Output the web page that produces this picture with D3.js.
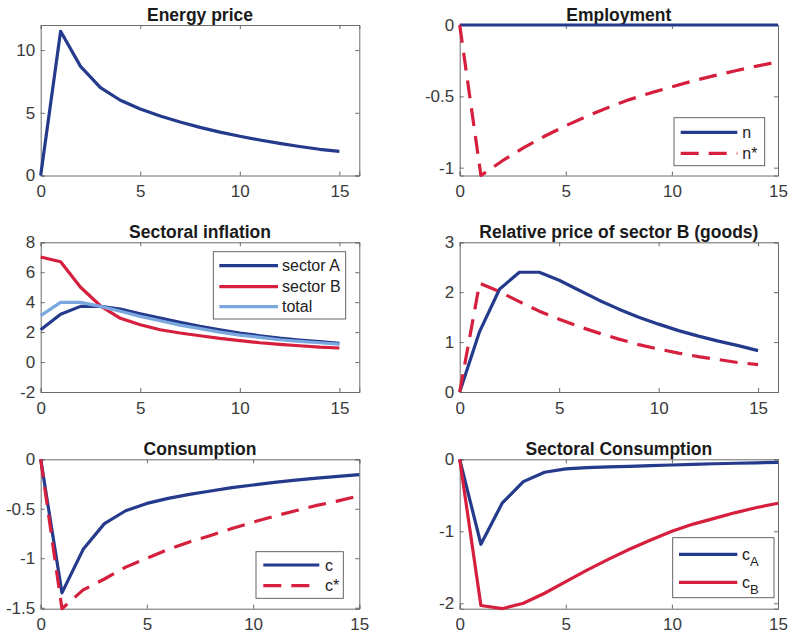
<!DOCTYPE html>
<html><head><meta charset="utf-8">
<script src="https://cdn.jsdelivr.net/npm/d3@7"></script>
<style>
body{margin:0;background:#fff;}
svg{display:block;font-family:"Liberation Sans",Arial,Helvetica,sans-serif;}
</style></head>
<body><svg id="c" width="788" height="638"></svg>
<script>
// ---------- data ----------
const periods = [0,1,2,3,4,5,6,7,8,9,10,11,12,13,14,15];

const energyPrice = [0,11.5,8.7,7.0,6.0,5.3,4.75,4.27,3.84,3.46,3.13,2.83,2.56,2.31,2.09,1.92];

const employmentN     = [0,0,0,0,0,0,0,0,0,0,0,0,0,0,0,0];
const employmentNStar = [0,-1.055,-0.953,-0.862,-0.780,-0.706,-0.639,-0.578,-0.523,-0.476,-0.433,-0.392,-0.355,-0.321,-0.288,-0.258];

const inflSectorA = [2.16,3.2,3.72,3.72,3.54,3.23,2.94,2.65,2.38,2.16,1.94,1.76,1.6,1.47,1.36,1.25];
const inflSectorB = [7.02,6.7,5.0,3.76,2.92,2.49,2.16,1.94,1.76,1.58,1.43,1.29,1.18,1.09,1.0,0.94];
const inflTotal   = [3.1,3.99,3.99,3.72,3.39,3.05,2.76,2.47,2.23,2.0,1.8,1.65,1.49,1.38,1.29,1.2];

const relPrice     = [0,1.21,2.06,2.4,2.4,2.24,2.04,1.84,1.66,1.5,1.36,1.23,1.12,1.02,0.93,0.83];
const relPriceStar = [0,2.18,2.01,1.81,1.62,1.46,1.31,1.18,1.06,0.95,0.86,0.78,0.71,0.65,0.59,0.55];

const consC     = [0,-1.35,-0.91,-0.65,-0.52,-0.446,-0.395,-0.355,-0.32,-0.287,-0.26,-0.233,-0.21,-0.19,-0.172,-0.155];
const consCStar = [0,-1.51,-1.32,-1.21,-1.09,-1.0,-0.91,-0.835,-0.77,-0.70,-0.635,-0.575,-0.52,-0.466,-0.42,-0.37];

const consA = [0,-1.18,-0.61,-0.31,-0.18,-0.134,-0.116,-0.106,-0.097,-0.088,-0.079,-0.07,-0.062,-0.055,-0.049,-0.042];
const consB = [0,-2.03,-2.075,-2.0,-1.86,-1.70,-1.54,-1.39,-1.25,-1.12,-1.0,-0.90,-0.82,-0.74,-0.67,-0.61];

const titles = ["Energy price","Employment","Sectoral inflation","Relative price of sector B (goods)","Consumption","Sectoral Consumption"];
const xTicks = [0,5,10,15];
const yTicksEnergy = [0,5,10];
const yTicksEmployment = [-1,-0.5,0];
const yTicksInflation = [-2,0,2,4,6,8];
const yTicksRelPrice = [0,1,2,3];
const yTicksCons = [-1.5,-1,-0.5,0];
const yTicksSectCons = [-2,-1,0];

// ---------- styles ----------
const DARK = "#243a8c", RED = "#d51f3d", LIGHT = "#7aa8de";
const DASH = "18,10";
const svg = d3.select("#c");

function panel(cfg){
  const x = d3.scaleLinear().domain(cfg.xDomain).range([cfg.left, cfg.right]);
  const y = d3.scaleLinear().domain(cfg.yDomain).range([cfg.bottom, cfg.top]);
  const g = svg.append("g");
  g.append("rect").attr("x",cfg.left).attr("y",cfg.top)
    .attr("width",cfg.right-cfg.left).attr("height",cfg.bottom-cfg.top)
    .attr("fill","#fff");
  const tickCol = "#6b6b6b";
  const axB = d3.axisBottom(x).tickValues(xTicks).tickSize(-4).tickPadding(9.7).tickFormat(d3.format("d"));
  const axT = d3.axisTop(x).tickValues(xTicks).tickSize(-4).tickFormat("");
  const axL = d3.axisLeft(y).tickValues(cfg.yTicks).tickSize(-4).tickPadding(5.5).tickFormat(d=>String(d));
  const axR = d3.axisRight(y).tickValues(cfg.yTicks).tickSize(-4).tickFormat("");
  [[axB,`translate(0,${cfg.bottom})`],[axT,`translate(0,${cfg.top})`],
   [axL,`translate(${cfg.left},0)`],[axR,`translate(${cfg.right},0)`]].forEach(([ax,tr])=>{
    const a = g.append("g").attr("transform",tr).call(ax);
    a.select(".domain").attr("stroke",tickCol).attr("stroke-width",1);
    a.selectAll(".tick line").attr("stroke",tickCol);
    a.selectAll("text").attr("font-size",17).attr("fill","#3a3a3a")
      .attr("font-family",'"Liberation Sans",Arial,sans-serif');
  });
  g.append("text").attr("x",(cfg.left+cfg.right)/2).attr("y",cfg.top-4.5)
    .attr("text-anchor","middle").attr("font-weight","bold").attr("font-size",17.5)
    .attr("fill","#1a1a1a").text(cfg.title);
  const line = d3.line().x((d,i)=>x(periods[i])).y(d=>y(d));
  cfg.series.forEach(s=>{
    g.append("path").datum(s.values).attr("d",line)
      .attr("fill","none").attr("stroke",s.color).attr("stroke-width",3.2)
      .attr("stroke-linejoin","round")
      .attr("stroke-dasharray",s.dash?DASH:null);
  });
  if(cfg.legend){
    const L = cfg.legend;
    g.append("rect").attr("x",L.x0).attr("y",L.y0).attr("width",L.x1-L.x0).attr("height",L.y1-L.y0)
      .attr("fill","#fff").attr("stroke","#555").attr("stroke-width",0.9);
    cfg.series.forEach((s,i)=>{
      const ry = L.rows[i];
      g.append("line").attr("x1",L.lx0).attr("x2",L.lx1).attr("y1",ry).attr("y2",ry)
        .attr("stroke",s.color).attr("stroke-width",3.2)
        .attr("stroke-dasharray",s.dash?DASH:null);
      const t = g.append("text").attr("x",L.tx).attr("y",ry+5.5).attr("font-size",16).attr("fill","#222");
      t.append("tspan").text(s.label);
      if(s.sub) t.append("tspan").attr("dy",6).attr("font-size",13).text(s.sub);
    });
  }
}

const LX0=40.7, LX1=359.3, RX0=459.7, RX1=778;
const R1=[25,175.5], R2=[242.3,392], R3=[459.3,608.7];

panel({title:titles[0],left:LX0,right:LX1,top:R1[0],bottom:R1[1],xDomain:[0,16],yDomain:[0,12],yTicks:yTicksEnergy,
  series:[{values:energyPrice,color:DARK}]});

panel({title:titles[1],left:RX0,right:RX1,top:R1[0],bottom:R1[1],xDomain:[0,15],yDomain:[-1.055,0],yTicks:yTicksEmployment,
  series:[{values:employmentN,color:DARK,label:"n"},{values:employmentNStar,color:RED,dash:true,label:"n*"}],
  legend:{x0:674,x1:764.7,y0:117.7,y1:165.7,lx0:680.7,lx1:737.3,tx:742.3,rows:[132.3,153.3]}});

panel({title:titles[2],left:LX0,right:LX1,top:R2[0],bottom:R2[1],xDomain:[0,16],yDomain:[-2,8],yTicks:yTicksInflation,
  series:[{values:inflSectorA,color:DARK,label:"sector A"},{values:inflSectorB,color:RED,label:"sector B"},{values:inflTotal,color:LIGHT,label:"total"}],
  legend:{x0:213.3,x1:345.7,y0:251.7,y1:319,lx0:219.3,lx1:278,tx:282,rows:[265.7,286.7,306.7]}});

panel({title:titles[3],left:RX0,right:RX1,top:R2[0],bottom:R2[1],xDomain:[0,16],yDomain:[0,3],yTicks:yTicksRelPrice,
  series:[{values:relPrice,color:DARK},{values:relPriceStar,color:RED,dash:true}]});

panel({title:titles[4],left:LX0,right:LX1,top:R3[0],bottom:R3[1],xDomain:[0,15],yDomain:[-1.51,0],yTicks:yTicksCons,
  series:[{values:consC,color:DARK,label:"c"},{values:consCStar,color:RED,dash:true,label:"c*"}],
  legend:{x0:256,x1:343.3,y0:551.7,y1:598.3,lx0:263.3,lx1:319.3,tx:325,rows:[565,585.7]}});

panel({title:titles[5],left:RX0,right:RX1,top:R3[0],bottom:R3[1],xDomain:[0,15],yDomain:[-2.075,0],yTicks:yTicksSectCons,
  series:[{values:consA,color:DARK,label:"c",sub:"A"},{values:consB,color:RED,label:"c",sub:"B"}],
  legend:{x0:672.7,x1:774,y0:537.7,y1:597.7,lx0:679,lx1:737.3,tx:742,rows:[554.3,582.3]}});
</script></body></html>
